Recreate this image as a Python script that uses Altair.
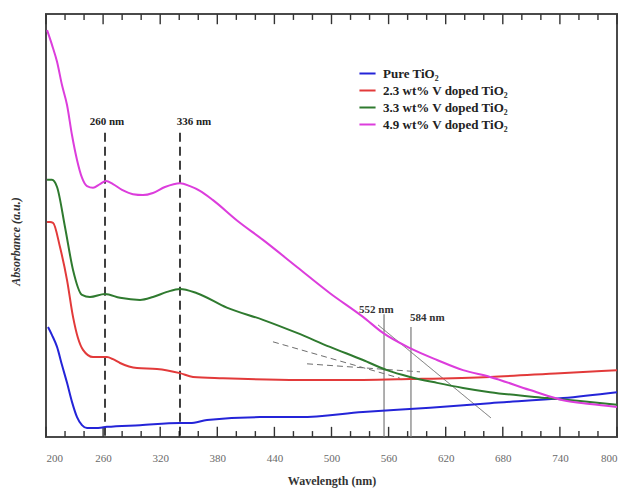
import altair as alt
import pandas as pd

# ---- data ----
series_names = ["Pure TiO₂", "2.3 wt% V doped TiO₂", "3.3 wt% V doped TiO₂", "4.9 wt% V doped TiO₂"]
series_colors = ["#2424d8", "#e23a3a", "#2f7a2f", "#dc3ddc"]

wl_pure = [202.1, 206.3, 211.6, 216.8, 222.1, 227.3, 232.6, 237.8, 243.1, 251.5, 264.1, 298.8, 340.8, 351.3,
           369.2, 424.9, 466.9, 533.1, 603.5, 666.6, 743.3, 800.0]
abs_pure = [0.260, 0.241, 0.213, 0.170, 0.128, 0.083, 0.047, 0.028, 0.021, 0.021, 0.024, 0.028, 0.033, 0.033,
            0.040, 0.047, 0.047, 0.059, 0.069, 0.080, 0.092, 0.106]

wl_23 = [201.1, 204.2, 207.4, 214.7, 222.1, 228.4, 233.6, 238.9, 249.4, 256.7, 264.1, 270.4, 277.8, 295.6,
         316.6, 340.8, 354.5, 386.0, 466.9, 533.1, 582.5, 666.6, 740.1, 800.0]
abs_23 = [0.508, 0.508, 0.506, 0.449, 0.371, 0.284, 0.234, 0.206, 0.189, 0.189, 0.189, 0.184, 0.175, 0.163,
          0.161, 0.151, 0.142, 0.139, 0.135, 0.135, 0.137, 0.142, 0.151, 0.158]

wl_33 = [201.1, 206.3, 211.6, 220.0, 228.4, 237.8, 246.2, 262.0, 277.8, 298.8, 312.4, 327.1, 340.8, 358.7,
         390.0, 428.0, 463.7, 498.4, 533.1, 558.3, 582.5, 610.9, 638.2, 666.6, 726.5, 761.1, 800.0]
abs_33 = [0.608, 0.608, 0.591, 0.496, 0.395, 0.336, 0.331, 0.338, 0.329, 0.324, 0.331, 0.343, 0.350, 0.340,
          0.306, 0.277, 0.246, 0.213, 0.182, 0.158, 0.142, 0.128, 0.116, 0.106, 0.092, 0.085, 0.076]

wl_49 = [201.1, 206.3, 211.6, 216.8, 222.1, 227.3, 232.6, 237.8, 243.1, 249.4, 256.7, 263.0, 270.4, 279.9,
         291.4, 301.9, 312.4, 325.0, 340.8, 351.3, 361.8, 375.5, 400.7, 428.0, 463.7, 498.4, 533.1, 554.1,
         582.5, 610.9, 638.2, 666.6, 708.6, 743.3, 771.6, 800.0]
abs_49 = [0.962, 0.927, 0.887, 0.832, 0.785, 0.714, 0.655, 0.613, 0.593, 0.589, 0.598, 0.605, 0.598, 0.584,
          0.574, 0.572, 0.577, 0.591, 0.600, 0.593, 0.582, 0.560, 0.512, 0.466, 0.402, 0.340, 0.284, 0.246,
          0.210, 0.182, 0.158, 0.142, 0.111, 0.087, 0.078, 0.071]

# peak markers (dashed) and band-edge markers (solid)
peak_wl = [262.0, 340.8]
peak_top = [0.719, 0.719]
peak_label_x = [264.1, 355.5]
peak_label_y = [0.745, 0.745]
peak_labels = ["260 nm", "336 nm"]

edge_wl = [555.2, 583.5]
edge_top = [0.29, 0.26]
edge_label_x = [529.0, 582.5]
edge_label_y = [0.300, 0.281]
edge_labels = ["552 nm", "584 nm"]

# tangent construction lines (start/end)
tan_id = ["A", "A", "B", "B", "C", "C"]
tan_wl = [438.5, 571.9, 474.3, 593.0, 548.9, 667.6]
tan_abs = [0.225, 0.139, 0.173, 0.154, 0.265, 0.045]
tan_dash = ["dash", "dash", "dash", "dash", "solid", "solid"]

major_ticks = [200, 260, 320, 380, 440, 500, 560, 620, 680, 740, 800]
minor_ticks = list(range(200, 801, 20))

# ---- tables ----
rows = []
for name, wl, ab in zip(series_names, [wl_pure, wl_23, wl_33, wl_49], [abs_pure, abs_23, abs_33, abs_49]):
    for w, a in zip(wl, ab):
        rows.append({"series": name, "wl": w, "abs": a})
df = pd.DataFrame(rows)

peaks = pd.DataFrame({"wl": peak_wl, "top": peak_top, "lx": peak_label_x, "ly": peak_label_y, "label": peak_labels})
edges = pd.DataFrame({"wl": edge_wl, "top": edge_top, "lx": edge_label_x, "ly": edge_label_y, "label": edge_labels})
tans = pd.DataFrame({"id": tan_id, "wl": tan_wl, "abs": tan_abs, "style": tan_dash})

# inward tick marks on the bottom and top frame (lengths in axis units)
MAJ, MIN = 0.024, 0.014
tick_rows = []
for t in minor_ticks:
    ln = MAJ if t in major_ticks else MIN
    tick_rows.append({"tk": float(t), "ya": 0.0, "yb": ln})
    tick_rows.append({"tk": float(t), "ya": 1.0, "yb": 1.0 - ln})
ticks_df = pd.DataFrame(tick_rows)

W, H = 571, 423
SERIF = "Liberation Serif"

xscale = alt.Scale(domain=[200, 800], nice=False, zero=False)
yscale = alt.Scale(domain=[0, 1], nice=False, zero=False)

xaxis = alt.Axis(values=major_ticks, ticks=False, domain=False, grid=False, labelFont=SERIF,
                 labelFontSize=11, labelColor="#6a6a6a", labelPadding=15, title="Wavelength (nm)",
                 titleFont=SERIF, titleFontSize=12, titleFontWeight="bold", titlePadding=12,
                 titleColor="#333")
yaxis = alt.Axis(labels=False, ticks=False, domain=False, grid=False, title="Absorbance (a.u.)",
                 titleFont=SERIF, titleFontSize=12, titleFontWeight="bold", titleFontStyle="italic",
                 titleColor="#333", titleX=-24, titleY=227)

tick_layer = alt.Chart(ticks_df).mark_rule(color="#333", strokeWidth=1.4).encode(
    x=alt.X("tk:Q", scale=xscale, axis=xaxis), y=alt.Y("ya:Q", scale=yscale, axis=yaxis), y2="yb:Q"
)

lines = alt.Chart(df).mark_line(strokeWidth=2, interpolate="monotone").encode(
    x=alt.X("wl:Q", scale=xscale),
    y=alt.Y("abs:Q", scale=yscale),
    color=alt.Color("series:N", scale=alt.Scale(domain=series_names, range=series_colors),
                    legend=alt.Legend(title=None, orient="none", legendX=312, legendY=50,
                                      symbolType="stroke", symbolSize=260, symbolStrokeWidth=2,
                                      labelFont=SERIF, labelFontSize=13, labelFontWeight="bold",
                                      labelColor="#222", rowPadding=0, labelLimit=300, labelOffset=6)),
    order=alt.Order("wl:Q"),
)

tan_layer = alt.Chart(tans).mark_line(strokeWidth=1).encode(
    x=alt.X("wl:Q", scale=xscale),
    y=alt.Y("abs:Q", scale=yscale),
    detail="id:N",
    strokeDash=alt.StrokeDash("style:N", scale=alt.Scale(domain=["dash", "solid"], range=[[6, 4], [1, 0]]),
                              legend=None),
    color=alt.value("#6e6e6e"),
)

peak_rules = alt.Chart(peaks).mark_rule(color="#111", strokeWidth=1.6, strokeDash=[9, 5]).encode(
    x=alt.X("wl:Q", scale=xscale), y=alt.Y("top:Q", scale=yscale), y2=alt.datum(0)
)
peak_text = alt.Chart(peaks).mark_text(font=SERIF, fontSize=11, fontWeight="bold", color="#222").encode(
    x=alt.X("lx:Q", scale=xscale), y=alt.Y("ly:Q", scale=yscale), text="label:N"
)
edge_rules = alt.Chart(edges).mark_rule(color="#7a7a7a", strokeWidth=1.2).encode(
    x=alt.X("wl:Q", scale=xscale), y=alt.Y("top:Q", scale=yscale), y2=alt.datum(0)
)
edge_text = alt.Chart(edges).mark_text(font=SERIF, fontSize=11, fontWeight="bold", color="#333",
                                       align="left").encode(
    x=alt.X("lx:Q", scale=xscale), y=alt.Y("ly:Q", scale=yscale), text="label:N"
)

chart = alt.layer(
    tick_layer, tan_layer, peak_rules, edge_rules, lines, peak_text, edge_text,
).properties(
    width=W, height=H,
    autosize=alt.AutoSizeParams(type="none"),
    padding={"left": 46, "top": 14, "right": 4, "bottom": 55},
    background="white",
).configure_view(
    stroke="#4a4a4a", strokeWidth=2
)

chart.save("out.html", embed_options={"renderer": "svg", "actions": False})
